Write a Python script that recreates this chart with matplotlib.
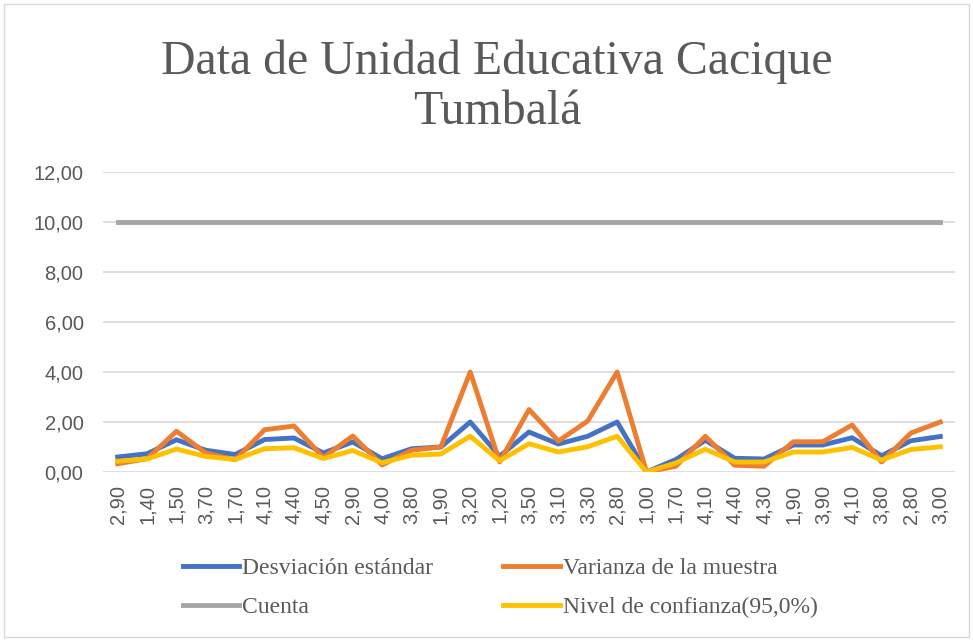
import matplotlib.pyplot as plt
import numpy as np
from matplotlib.patches import Rectangle
from matplotlib.ticker import FuncFormatter

categorias = ["2,90", "1,40", "1,50", "3,70", "1,70", "4,10", "4,40", "4,50", "2,90", "4,00",
              "3,80", "1,90", "3,20", "1,20", "3,50", "3,10", "3,30", "2,80", "1,00", "1,70",
              "4,10", "4,40", "4,30", "1,90", "3,90", "4,10", "3,80", "2,80", "3,00"]

desviacion = [0.60, 0.73, 1.29, 0.87, 0.70, 1.30, 1.36, 0.76, 1.20, 0.53,
              0.93, 1.00, 2.00, 0.63, 1.60, 1.12, 1.43, 2.00, 0.00, 0.50,
              1.27, 0.55, 0.52, 1.08, 1.08, 1.37, 0.65, 1.25, 1.42]
varianza = [0.33, 0.53, 1.63, 0.76, 0.49, 1.69, 1.84, 0.58, 1.44, 0.28,
            0.87, 1.00, 4.00, 0.40, 2.50, 1.24, 2.04, 4.00, 0.00, 0.23,
            1.43, 0.27, 0.23, 1.21, 1.21, 1.88, 0.40, 1.56, 2.00]
cuenta = [10] * 29
confianza = [0.43, 0.52, 0.92, 0.62, 0.50, 0.93, 0.97, 0.54, 0.86, 0.37,
             0.67, 0.72, 1.43, 0.45, 1.13, 0.80, 1.01, 1.43, 0.00, 0.36,
             0.91, 0.40, 0.40, 0.80, 0.80, 0.98, 0.48, 0.90, 1.01]

gris = '#595959'
serif = 'Liberation Serif'

fig = plt.figure(figsize=(9.73, 6.41), dpi=100)
ax = fig.add_axes([103 / 973, 1 - 472 / 641, 852 / 973, 300 / 641])

x = np.arange(len(categorias))
lw = 3.5
l1, = ax.plot(x, desviacion, color='#4472C4', lw=lw, label='Desviación estándar', solid_joinstyle='round')
l2, = ax.plot(x, varianza, color='#ED7D31', lw=lw, label='Varianza de la muestra', solid_joinstyle='round')
l3, = ax.plot(x, cuenta, color='#A5A5A5', lw=lw, label='Cuenta', solid_joinstyle='round')
l4, = ax.plot(x, confianza, color='#FFC000', lw=lw, label='Nivel de confianza(95,0%)', solid_joinstyle='round')

ax.set_xlim(-0.5, len(categorias) - 0.5)
ax.set_ylim(0, 12)
ax.set_yticks(np.arange(0, 13, 2))
ax.yaxis.set_major_formatter(FuncFormatter(lambda v, p: f"{v:.2f}".replace('.', ',')))
ax.set_xticks(x)
ax.set_xticklabels(categorias, rotation=90)
ax.tick_params(axis='both', length=0, labelsize=14.5, labelcolor=gris)
ax.tick_params(axis='y', pad=14)
ax.tick_params(axis='x', pad=9)
for lab in ax.get_xticklabels() + ax.get_yticklabels():
    lab.set_family('Liberation Sans')
ax.grid(axis='y', color='#D9D9D9', lw=1.2)
ax.set_axisbelow(True)
for s in ax.spines.values():
    s.set_visible(False)

fig.text(497 / 973, 1 - 62 / 641, "Data de Unidad Educativa Cacique", ha='center', va='center',
         family=serif, fontsize=34.5, color=gris)
fig.text(497 / 973, 1 - 112 / 641, "Tumbalá", ha='center', va='center',
         family=serif, fontsize=34.5, color=gris)

# matplotlib fills legend columns first, so order for row-wise reading
leg = fig.legend([l1, l3, l2, l4], [l.get_label() for l in [l1, l3, l2, l4]],
                 loc='center', bbox_to_anchor=(500 / 973, 1 - 588 / 641), ncol=2, frameon=False,
                 prop={'family': serif, 'size': 17}, labelcolor=gris, handlelength=2.4,
                 handletextpad=0.1, columnspacing=3.0, labelspacing=0.75)

fig.patches.append(Rectangle((4 / 973, 4 / 641), 965 / 973, 633 / 641, transform=fig.transFigure,
                             fill=False, edgecolor='#D9D9D9', lw=1))

fig.savefig('out.png', dpi=100)
